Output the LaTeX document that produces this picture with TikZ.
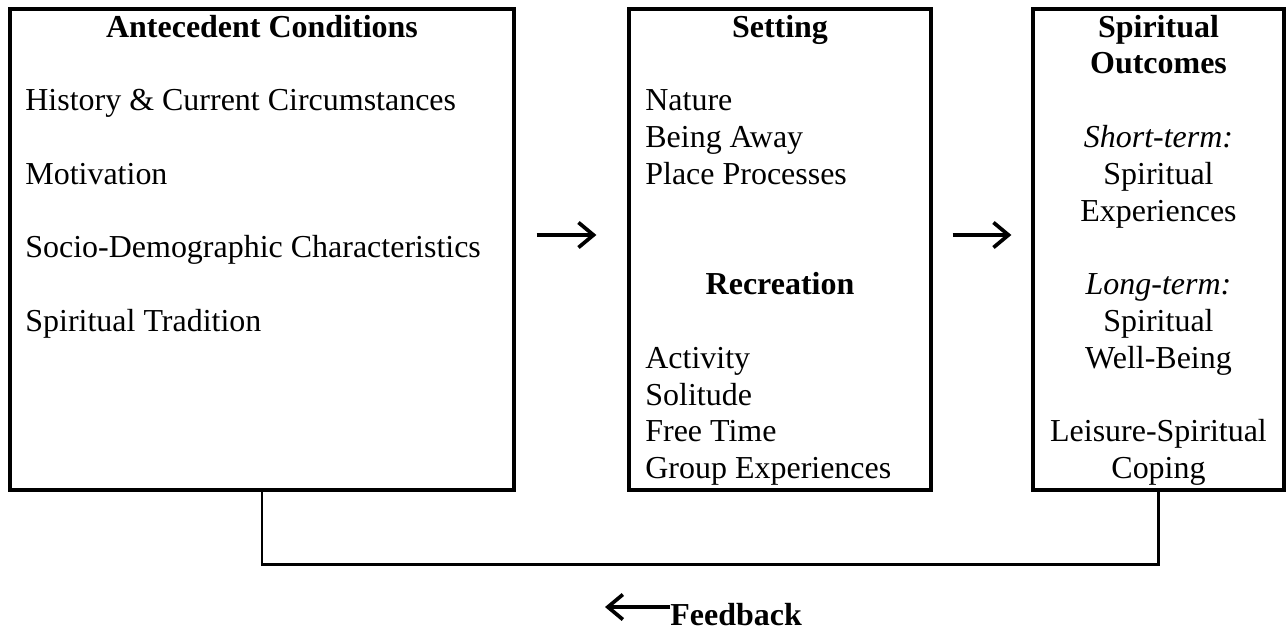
\documentclass[tikz,border=0pt]{standalone}
\usepackage{fontspec}
\setmainfont{Liberation Serif}
\usetikzlibrary{arrows.meta, positioning, calc}

\begin{document}
\begin{tikzpicture}[
    x=0.02cm, y=-0.02cm,
    box/.style={draw, line width=1.9pt, inner sep=0pt, minimum height=9.62cm},
    txt/.style={inner sep=0pt, font=\fontsize{18.2}{20.94}\selectfont},
    head/.style={txt, font=\fontsize{18.2}{20.94}\selectfont\bfseries},
    flow/.style={-{Straight Barb[length=0.3cm, width=0.5cm, line width=2.1pt]},
      line width=1.9pt}
  ]
  \useasboundingbox (0,0) rectangle (1286,630);

  % the three boxes
  \node[box, minimum width=10.08cm] (ante) at (262,249.5) {};
  \node[box, minimum width=6.04cm] (setting) at (780,249.5) {};
  \node[box, minimum width=5.02cm] (outcome) at (1158.5,249.5) {};

  % antecedent conditions (base = last line)
  \node[head, anchor=base] (antehead) at (262,37) {Antecedent Conditions};
  \node[txt, anchor=base west, align=left] (antelist) at (25,331.4)
    {History \& Current Circumstances\\[20.94pt]Motivation\\[20.94pt]
     Socio-Demographic Characteristics\\[20.94pt]Spiritual Tradition};

  % setting and recreation
  \node[head, anchor=base] (sethead) at (780,37) {Setting};
  \node[txt, anchor=base west, align=left] (setlist) at (645,184.2)
    {Nature\\Being Away\\Place Processes};
  \node[head, anchor=base] (rechead) at (780,294.6) {Recreation};
  \node[txt, anchor=base west, align=left] (reclist) at (645,478.6)
    {Activity\\Solitude\\Free Time\\Group Experiences};

  % spiritual outcomes
  \node[head, anchor=base, align=center] (outhead) at (1158.5,73.8)
    {Spiritual\\Outcomes};
  \node[txt, anchor=base, align=center] (outlist) at (1158.5,478.6)
    {\textit{Short-term:}\\Spiritual\\Experiences\\[20.94pt]
     \textit{Long-term:}\\Spiritual\\Well-Being\\[20.94pt]
     Leisure-Spiritual\\Coping};

  % flow between the boxes
  \draw[flow] ($(ante.east)+(21,-14.5)$) -- ($(setting.west)+(-31,-14.5)$);
  \draw[flow] ($(setting.east)+(20,-14.5)$) -- ($(outcome.west)+(-20,-14.5)$);

  % feedback loop
  \draw[line width=1.7pt] (ante.south) -- ++(0,73) -| (outcome.south);
  \node[head, anchor=base west] (feedback) at (670,625) {Feedback};
  \coordinate (fbtip) at (605,607);
  \draw[flow] (feedback.west |- fbtip) -- (fbtip);
\end{tikzpicture}
\end{document}
